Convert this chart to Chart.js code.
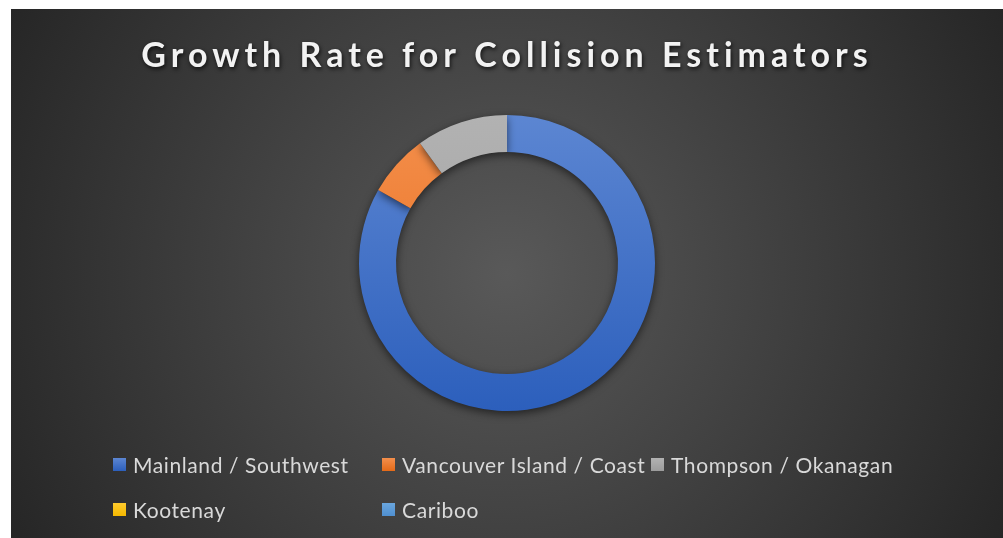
<!DOCTYPE html>
<html>
<head>
<meta charset="utf-8">
<script src="https://cdn.jsdelivr.net/npm/chart.js@4.4.1/dist/chart.umd.min.js"></script>
<style>
  html, body { margin: 0; padding: 0; background: #ffffff; }
  #frame {
    position: absolute; left: 11px; top: 9px; width: 992px; height: 529px;
    background: radial-gradient(circle farthest-corner at 50% 50%, #595959 0%, #262626 100%);
    overflow: hidden;
  }
  #chart { position: absolute; left: 0; top: 0; }
  #legend {
    position: absolute; left: 102px; top: 443px;
    display: grid; grid-template-columns: 269px 269px 269px; row-gap: 20px;
    font-family: Lato, "Open Sans", sans-serif; font-size: 21px; letter-spacing: 0.6px; color: #d9d9d9;
  }
  .item { display: flex; align-items: center; height: 25px; white-space: nowrap; }
  .box { width: 13px; height: 13px; margin-right: 7px; }
</style>
</head>
<body>
<div id="frame">
  <canvas id="chart" width="992" height="529"></canvas>
  <div id="legend"></div>
</div>
<script>
// datos (porcentaje del anillo)
const categories = ['Mainland / Southwest', 'Vancouver Island / Coast', 'Thompson / Okanagan', 'Kootenay', 'Cariboo'];
const growthValues = [83.2, 6.8, 10.0, 0, 0];
const colorsTop = ['#5c86d2', '#f48f4c', '#b2b2b2', '#ffcb2e', '#6aa6de'];
const colorsBottom = ['#2c5fbc', '#e56a18', '#9c9c9c', '#f4b800', '#4f8fd0'];

const titleText = 'Growth Rate for Collision Estimators';

function segmentFill(context) {
  const chart = context.chart;
  const area = chart.chartArea;
  if (!area) return colorsTop[context.dataIndex];
  const g = chart.ctx.createLinearGradient(0, area.top, 0, area.bottom);
  g.addColorStop(0, colorsTop[context.dataIndex]);
  g.addColorStop(1, colorsBottom[context.dataIndex]);
  return g;
}

// sombras y espaciado del titulo, como en Excel
const effectsPlugin = {
  id: 'effects',
  beforeDraw(chart) {
    const ctx = chart.ctx;
    ctx.letterSpacing = '5px';
    ctx.shadowColor = 'rgba(0,0,0,0.75)';
    ctx.shadowBlur = 4;
    ctx.shadowOffsetX = 1;
    ctx.shadowOffsetY = 2;
  },
  beforeDatasetsDraw(chart) {
    const ctx = chart.ctx;
    ctx.letterSpacing = '0px';
    ctx.shadowColor = 'rgba(0,0,0,0.55)';
    ctx.shadowBlur = 8;
    ctx.shadowOffsetX = 0;
    ctx.shadowOffsetY = 3;
  },
  afterDatasetsDraw(chart) {
    const ctx = chart.ctx;
    ctx.shadowColor = 'rgba(0,0,0,0)';
    ctx.shadowBlur = 0;
    ctx.shadowOffsetY = 0;
  }
};

const chart = new Chart(document.getElementById('chart'), {
  type: 'doughnut',
  data: {
    labels: categories,
    datasets: [{
      data: growthValues,
      backgroundColor: segmentFill,
      borderWidth: 0,
      hoverOffset: 0
    }]
  },
  options: {
    responsive: false,
    animation: false,
    cutout: '75%',
    layout: { padding: { bottom: 127 } },
    events: [],
    plugins: {
      legend: { display: false },
      tooltip: { enabled: false },
      title: {
        display: true,
        text: titleText,
        color: '#f2f2f2',
        font: { family: 'Lato', size: 34, weight: 'bold', lineHeight: 1.2 },
        padding: { top: 27, bottom: 38.2 }
      }
    }
  },
  plugins: [effectsPlugin]
});

// leyenda en rejilla de columnas fijas
const legendEl = document.getElementById('legend');
categories.forEach((name, i) => {
  const item = document.createElement('div');
  item.className = 'item';
  const box = document.createElement('span');
  box.className = 'box';
  box.style.background = 'linear-gradient(' + colorsTop[i] + ', ' + colorsBottom[i] + ')';
  const label = document.createElement('span');
  label.textContent = name;
  item.appendChild(box);
  item.appendChild(label);
  legendEl.appendChild(item);
});
</script>
</body>
</html>
